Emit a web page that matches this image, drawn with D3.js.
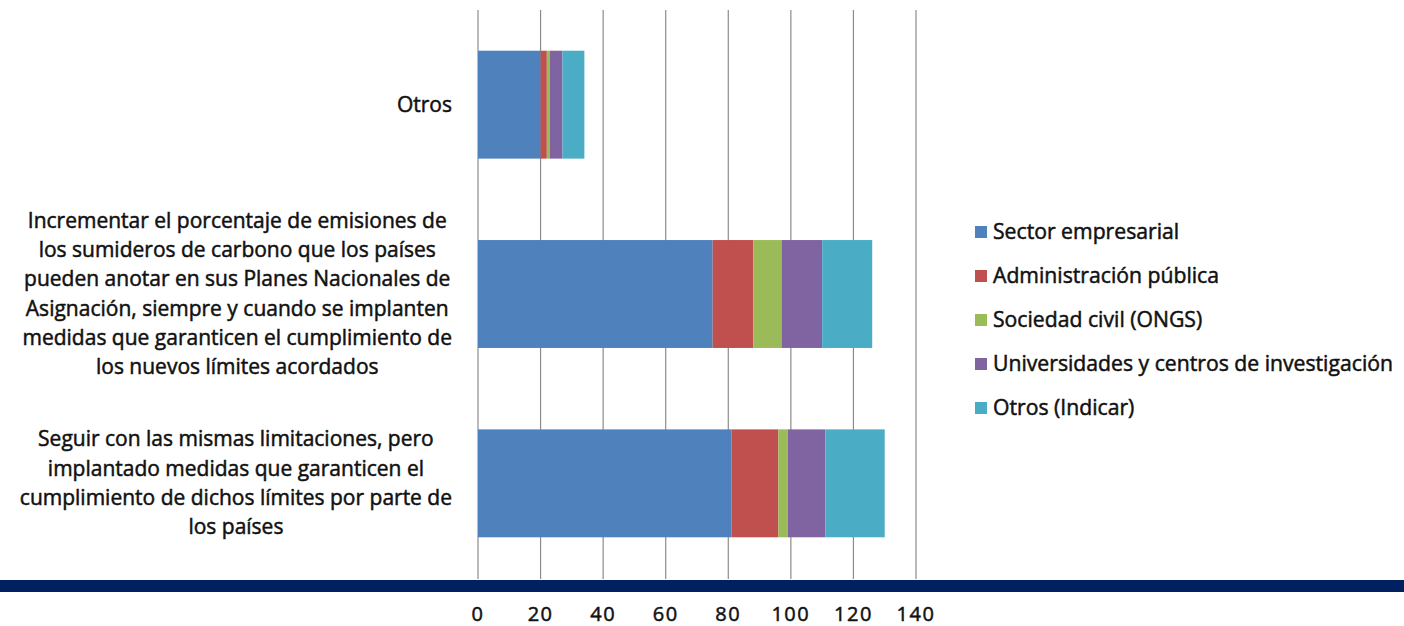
<!DOCTYPE html>
<html>
<head>
<meta charset="utf-8">
<script src="https://cdn.jsdelivr.net/npm/d3@7"></script>
<style>
  html, body { margin: 0; padding: 0; background: #ffffff; }
  svg { display: block; }
  text { font-family: "Open Sans", "Lato", sans-serif; font-weight: 400; fill: #111111; stroke: #111111; stroke-width: 0.5px; }
</style>
</head>
<body>
<svg id="chart" width="1404" height="626"></svg>
<script>
// ---- data ----
const categories = [
  "Otros",
  "Incrementar el porcentaje de emisiones de|los sumideros de carbono que los países|pueden anotar en sus Planes Nacionales de|Asignación, siempre y cuando se implanten|medidas que garanticen el cumplimiento de|los nuevos límites acordados",
  "Seguir con las mismas limitaciones, pero|implantado medidas que garanticen el|cumplimiento de dichos límites por parte de|los países"
];
const seriesNames = [
  "Sector empresarial",
  "Administración pública",
  "Sociedad civil (ONGS)",
  "Universidades y centros de investigación",
  "Otros (Indicar)"
];
const sectorEmpresarial = [20, 75, 81];
const administracionPublica = [2, 13, 15];
const sociedadCivil = [1, 9, 3];
const universidades = [4, 13, 12];
const otrosIndicar = [7, 16, 19];
const xTicks = [0, 20, 40, 60, 80, 100, 120, 140];
const colors = ["#4F81BD", "#C0504D", "#9BBB59", "#8064A2", "#4BACC6"];

// ---- build ----
const seriesValues = [sectorEmpresarial, administracionPublica, sociedadCivil, universidades, otrosIndicar];
const table = categories.map((c, i) => {
  const row = { cat: c };
  seriesNames.forEach((s, j) => row[s] = seriesValues[j][i]);
  return row;
});
const stacked = d3.stack().keys(seriesNames)(table);

const svg = d3.select("#chart");
const plot = { left: 478, right: 916, top: 10, bottom: 578 };

const x = d3.scaleLinear().domain([0, 140]).range([plot.left, plot.right]);
const y = d3.scaleBand().domain(categories).range([plot.top, plot.bottom])
  .paddingInner(0.43).paddingOuter(0.215);

// gridlines
svg.append("g").selectAll("line").data(xTicks).join("line")
  .attr("x1", d => x(d)).attr("x2", d => x(d))
  .attr("y1", plot.top).attr("y2", plot.bottom + 1)
  .attr("stroke", "#8c8c8c").attr("stroke-width", 1.2);

// bars
svg.append("g").selectAll("g").data(stacked).join("g")
  .attr("fill", (d, i) => colors[i])
  .selectAll("rect").data(d => d).join("rect")
  .attr("x", d => x(d[0]))
  .attr("width", d => x(d[1]) - x(d[0]))
  .attr("y", d => y(d.data.cat))
  .attr("height", y.bandwidth());

// dark band
svg.append("rect").attr("x", 0).attr("y", 580).attr("width", 1404).attr("height", 12)
  .attr("fill", "#002060");

// x tick labels
svg.append("g").selectAll("text").data(xTicks).join("text")
  .attr("x", d => x(d)).attr("y", 621)
  .attr("text-anchor", "middle")
  .style("font-size", "20px")
  .style("letter-spacing", "1.5px")
  .text(d => d);

// category labels
const rightEdge = 452;
const lineH = 29.3;
categories.forEach(c => {
  const lines = c.split("|");
  const g = svg.append("g");
  const texts = lines.map((l, i) => g.append("text")
    .style("font-size", "21px")
    .attr("y", y(c) + y.bandwidth() / 2 + (i - (lines.length - 1) / 2) * lineH + 7)
    .attr("text-anchor", "middle")
    .text(l));
  const maxW = d3.max(texts, t => t.node().getComputedTextLength());
  texts.forEach(t => t.attr("x", rightEdge - maxW / 2));
});

// legend
const legend = svg.append("g");
seriesNames.forEach((s, i) => {
  const yy = 232 + i * 44;
  legend.append("rect").attr("x", 975).attr("y", yy - 6).attr("width", 12).attr("height", 12)
    .attr("fill", colors[i]);
  legend.append("text").attr("x", 993).attr("y", yy + 7)
    .style("font-size", "21.2px")
    .text(s);
});
</script>
</body>
</html>
